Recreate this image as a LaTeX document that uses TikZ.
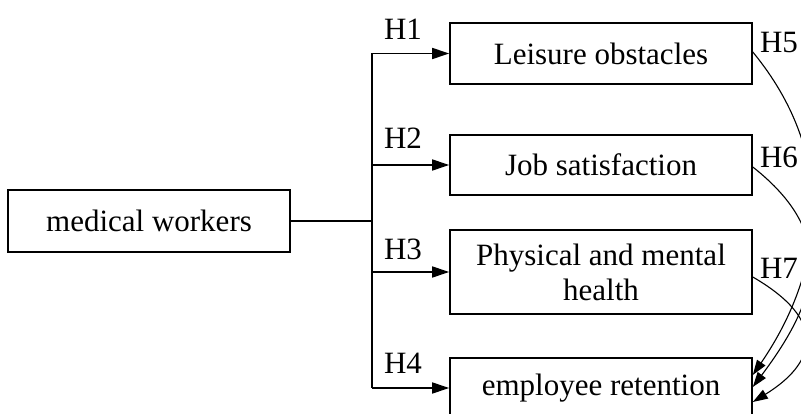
\documentclass[tikz,border=0pt]{standalone}
\usepackage{fontspec}
\setmainfont{Liberation Serif}
\usetikzlibrary{arrows.meta}
\begin{document}
\begin{tikzpicture}[x=1pt,y=-1pt,
  box/.style={draw,line width=1.6pt,minimum width=302pt,align=center,inner sep=0pt,font=\fontsize{31}{35}\selectfont},
  lab/.style={inner sep=0pt,font=\fontsize{31}{35}\selectfont},
  conn/.style={line width=1.5pt},
  arr/.style={line width=1.5pt,-{Triangle[length=17pt,width=11pt]}},
  carr/.style={line width=1.1pt,-{Triangle[length=15pt,width=10pt]}}]
\useasboundingbox (0,0) rectangle (801,414);
\clip (0,0) rectangle (801,414);
\node[box,minimum width=282pt,minimum height=62pt] (mw) at (149,221) {medical workers};
\node[box,minimum height=61pt] (lo) at (601,53.5) {Leisure obstacles};
\node[box,minimum height=60pt] (jo) at (601,165) {Job satisfaction};
\node[box,minimum height=84pt] (ph) at (601,272) {Physical and mental\\health};
\node[box,minimum height=60pt] (er) at (601,388) {employee retention};
\coordinate (t) at (372,221);
\draw[conn] (mw.east) -- (t);
\draw[conn] (t |- lo.west) -- (t |- er.west);
\draw[arr] (t |- lo.west) -- (lo.west);
\draw[arr] (t |- jo.west) -- (jo.west);
\draw[arr] (t |- ph.west) -- (ph.west);
\draw[arr] (t |- er.west) -- (er.west);
\node[lab] (h1) at (403,29) {H1};
\node[lab] (h2) at (403,138) {H2};
\node[lab] (h3) at (403,249) {H3};
\node[lab] (h4) at (403,363) {H4};
\node[lab] (h5) at (779,43) {H5};
\node[lab] (h6) at (779,157) {H6};
\node[lab] (h7) at (779,268) {H7};
\coordinate (e5) at ([yshift=13pt]er.east);
\coordinate (e6) at ([yshift=1pt]er.east);
\coordinate (e7) at ([yshift=-14pt]er.east);
\draw[carr] ([yshift=1.5pt]lo.east) .. controls (835,152) and (828,265) .. (e5);
\draw[carr] ([yshift=-2pt]jo.east) .. controls (839,235) and (818,300) .. (e6);
\draw[carr] ([yshift=-5pt]ph.east) .. controls (839,327) and (805,370) .. (e7);
\end{tikzpicture}
\end{document}
